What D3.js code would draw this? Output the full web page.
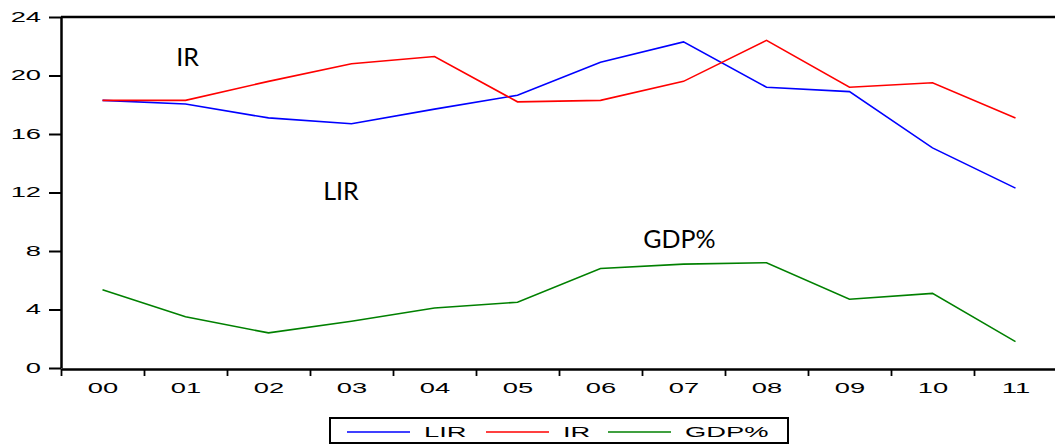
<!DOCTYPE html>
<html lang="en">
<head>
    <meta charset="UTF-8">
    <title>LIR, IR and GDP%</title>
    <script src="https://d3js.org/d3.v7.min.js"></script>
    <style>
        body {
            margin: 0;
            background: #fff;
        }
        .axis text, .legend text {
            font-family: "Liberation Sans", Arial, sans-serif;
            font-size: 14px;
            fill: #000;
        }
        .note {
            font-family: Lato, "Open Sans", sans-serif;
            font-size: 25px;
            fill: #000;
        }
    </style>
</head>
<body>
    <div id="chart"></div>
    <script>
        // data
        const years = ["00", "01", "02", "03", "04", "05", "06", "07", "08", "09", "10", "11"];
        const lir = [18.3, 18.05, 17.1, 16.7, 17.7, 18.65, 20.9, 22.3, 19.2, 18.9, 15.05, 12.3];
        const ir = [18.3, 18.3, 19.6, 20.8, 21.3, 18.2, 18.3, 19.6, 22.4, 19.2, 19.5, 17.1];
        const gdp = [5.35, 3.5, 2.4, 3.2, 4.1, 4.5, 6.8, 7.1, 7.2, 4.7, 5.1, 1.8];
        const yTicks = [0, 4, 8, 12, 16, 20, 24];

        const series = [
            { name: "LIR", values: lir, color: "#0000ff" },
            { name: "IR", values: ir, color: "#ff0000" },
            { name: "GDP%", values: gdp, color: "#008000" }
        ];

        // in-plot labels, placed in data units (index, value)
        const notes = [
            { text: "IR", i: 0.89, v: 20.65 },
            { text: "LIR", i: 2.66, v: 11.5 },
            { text: "GDP%", i: 6.515, v: 8.2 }
        ];

        const width = 1055;
        const height = 445;
        const plot = { left: 61, right: 1057, top: 17, bottom: 368 };
        const sx = 1.95; // tick and legend text is stretched sideways

        const svg = d3.select("#chart").append("svg")
            .attr("width", width)
            .attr("height", height);

        const x = d3.scaleLinear().domain([-0.5, years.length - 0.5]).range([plot.left, plot.right]);
        const y = d3.scaleLinear().domain([0, 24]).range([plot.bottom, plot.top]);

        // top frame line
        svg.append("line")
            .attr("x1", plot.left).attr("x2", width)
            .attr("y1", plot.top).attr("y2", plot.top)
            .attr("stroke", "#000").attr("stroke-width", 2.5);

        // y axis
        const yAxis = svg.append("g")
            .attr("class", "axis")
            .attr("transform", `translate(${plot.left},0)`)
            .call(d3.axisLeft(y).tickValues(yTicks).tickSize(12).tickSizeOuter(0));
        yAxis.select(".domain").attr("stroke-width", 2.5);
        yAxis.selectAll(".tick line").attr("stroke-width", 2);
        yAxis.selectAll(".tick text")
            .attr("x", -20 / sx)
            .attr("transform", `scale(${sx},1)`);

        // x axis: ticks between the years, labels under each year
        const xTicks = svg.append("g")
            .attr("class", "axis")
            .attr("transform", `translate(0,${plot.bottom + 1})`)
            .call(d3.axisBottom(x)
                .tickValues(d3.range(years.length).map(i => i - 0.5))
                .tickFormat("")
                .tickSize(7)
                .tickSizeOuter(0));
        xTicks.select(".domain").attr("stroke-width", 2.5);
        xTicks.selectAll(".tick line").attr("stroke-width", 1.8);

        const xLabels = svg.append("g")
            .attr("class", "axis")
            .attr("transform", `translate(0,${plot.bottom + 1})`)
            .call(d3.axisBottom(x)
                .tickValues(d3.range(years.length))
                .tickFormat(i => years[i])
                .tickSize(0)
                .tickPadding(14));
        xLabels.select(".domain").remove();
        xLabels.selectAll(".tick text")
            .attr("transform", `scale(${sx},1)`);

        // lines
        const line = d3.line()
            .x((d, i) => x(i))
            .y(d => y(d));

        svg.selectAll(".series")
            .data(series)
            .enter()
            .append("path")
            .attr("class", "series")
            .attr("d", d => line(d.values))
            .attr("fill", "none")
            .attr("stroke", d => d.color)
            .attr("stroke-width", 1.6);

        // labels inside the plot
        svg.selectAll(".note")
            .data(notes)
            .enter()
            .append("text")
            .attr("class", "note")
            .attr("x", d => x(d.i))
            .attr("y", d => y(d.v))
            .text(d => d.text);

        // legend
        const legend = svg.append("g").attr("class", "legend");
        legend.append("rect")
            .attr("x", 330).attr("y", 418)
            .attr("width", 458).attr("height", 25)
            .attr("fill", "#fff")
            .attr("stroke", "#000")
            .attr("stroke-width", 2);

        const legendX = [347, 486, 608];
        const item = legend.selectAll(".item")
            .data(series)
            .enter()
            .append("g")
            .attr("class", "item")
            .attr("transform", (d, i) => `translate(${legendX[i]},432)`);
        item.append("line")
            .attr("x1", 0).attr("x2", 63)
            .attr("stroke", d => d.color)
            .attr("stroke-width", 1.6);
        item.append("text")
            .attr("x", 77 / sx)
            .attr("dy", "0.36em")
            .attr("transform", `scale(${sx},1)`)
            .text(d => d.name);
    </script>
</body>
</html>
